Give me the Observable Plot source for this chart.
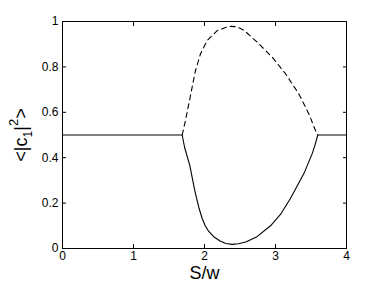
<!DOCTYPE html>
<html>
<head>
<meta charset="utf-8">
<script src="https://cdn.jsdelivr.net/npm/d3@7"></script>
<script src="https://cdn.jsdelivr.net/npm/@observablehq/plot@0.6"></script>
<style>
  html, body { margin: 0; padding: 0; background: #fff; }
</style>
</head>
<body>
<div id="chart"></div>
<script>
// Tick values and labels
const xTicks = [0, 1, 2, 3, 4];
const xTickLabels = ["0", "1", "2", "3", "4"];
const yTicks = [0, 0.2, 0.4, 0.6, 0.8, 1];
const yTickLabels = ["0", "0.2", "0.4", "0.6", "0.8", "1"];

// Solid branch (flat, lower curve, flat)
const solidX = [0, 1.686, 1.72, 1.793, 1.863, 1.925, 1.97, 2.01, 2.06, 2.13, 2.22, 2.30, 2.39, 2.48, 2.58, 2.74, 2.93, 3.07, 3.21, 3.40, 3.52, 3.56, 3.596, 4];
const solidY = [0.5, 0.5, 0.445, 0.366, 0.255, 0.175, 0.13, 0.10, 0.075, 0.052, 0.033, 0.022, 0.018, 0.021, 0.029, 0.052, 0.10, 0.15, 0.22, 0.33, 0.42, 0.46, 0.5, 0.5];

// Dashed branch (upper curve)
const dashX = [1.686, 1.732, 1.779, 1.826, 1.873, 1.944, 2.038, 2.179, 2.343, 2.45, 2.554, 2.742, 2.953, 3.141, 3.329, 3.470, 3.563, 3.596];
const dashY = [0.5, 0.564, 0.637, 0.711, 0.784, 0.858, 0.916, 0.960, 0.979, 0.977, 0.962, 0.909, 0.843, 0.770, 0.681, 0.593, 0.520, 0.5];

const solid = solidX.map((x, i) => ({x, y: solidY[i]}));
const dashed = dashX.map((x, i) => ({x, y: dashY[i]}));

const chart = Plot.plot({
  width: 382,
  height: 287,
  marginLeft: 62,
  marginRight: 36,
  marginTop: 21,
  marginBottom: 39,
  x: {domain: [0, 4]},
  y: {domain: [0, 1]},
  style: {fontFamily: "'Liberation Sans', Arial, sans-serif", fontSize: "11px", background: "#fff", color: "#000"},
  marks: [
    // inside ticks
    Plot.axisX(xTicks, {anchor: "bottom", tickSize: -4, text: null, label: null, stroke: "#000"}),
    Plot.axisX(xTicks, {anchor: "top", tickSize: -4, text: null, label: null, stroke: "#000"}),
    Plot.axisY(yTicks, {anchor: "left", tickSize: -4, text: null, label: null, stroke: "#000"}),
    Plot.axisY(yTicks, {anchor: "right", tickSize: -4, text: null, label: null, stroke: "#000"}),
    // tick labels
    Plot.axisX(xTicks, {anchor: "bottom", tickSize: 0, tickPadding: 3, label: null, tickFormat: d => xTickLabels[xTicks.indexOf(d)], fontSize: 12}),
    Plot.axisY(yTicks, {anchor: "left", tickSize: 0, tickPadding: 4, label: null, tickFormat: d => yTickLabels[yTicks.indexOf(d)], fontSize: 12}),
    Plot.frame({stroke: "#000", strokeWidth: 1}),
    Plot.line(dashed, {x: "x", y: "y", stroke: "#000", strokeWidth: 1.1, strokeDasharray: "5,4"}),
    Plot.line(solid, {x: "x", y: "y", stroke: "#000", strokeWidth: 1.1}),
    Plot.text(["S/w"], {frameAnchor: "bottom", dy: 30, fontSize: 18, text: d => d})
  ]
});

document.getElementById("chart").appendChild(chart);

// y-axis label with sub/superscript
const svg = d3.select(chart);
const t = svg.append("text")
  .attr("transform", "translate(27,135) rotate(-90)")
  .attr("text-anchor", "middle")
  .attr("font-family", "'Liberation Sans', Arial, sans-serif")
  .attr("font-size", 18)
  .attr("fill", "#000");
t.append("tspan").text("<|c");
t.append("tspan").attr("font-size", 12).attr("dy", 5).text("1");
t.append("tspan").attr("dy", -5).text("|");
t.append("tspan").attr("font-size", 13).attr("dy", -9).text("2");
t.append("tspan").attr("dy", 9).text(">");
</script>
</body>
</html>
